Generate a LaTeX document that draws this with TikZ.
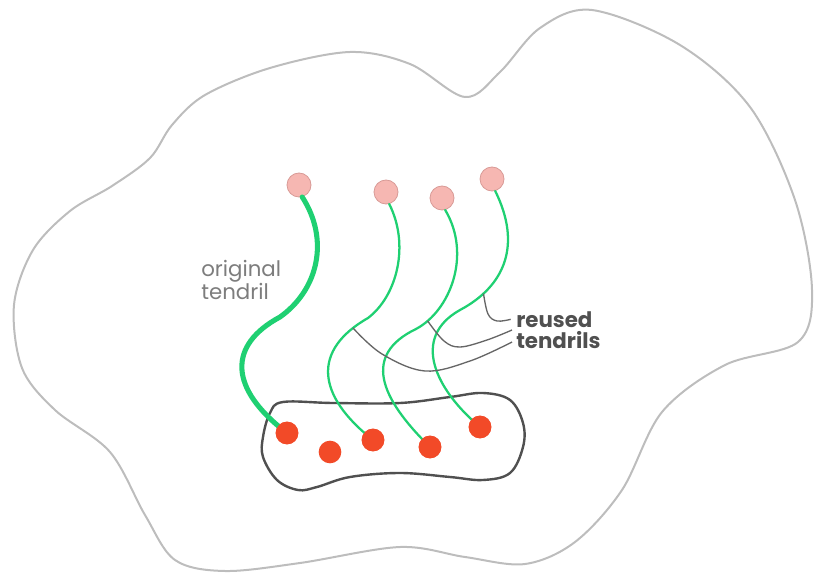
\documentclass[tikz,border=0pt]{standalone}
\usepackage{fontspec}
\setmainfont{Poppins}
\usepackage{xcolor}
\usepackage{tikz}
\usetikzlibrary{positioning}

\definecolor{blobgray}{HTML}{BDBDBD}
\definecolor{podgray}{HTML}{505050}
\definecolor{budpink}{HTML}{F6B7B2}
\definecolor{budline}{HTML}{D89A96}
\definecolor{seedred}{HTML}{F24A28}
\definecolor{tendrilgreen}{HTML}{1FD072}
\definecolor{pointergray}{HTML}{666666}

\begin{document}
\begin{tikzpicture}[
    x=0.75pt, y=-0.75pt,
    blob/.style={draw=blobgray, line width=1.5pt},
    pod/.style={draw=podgray, line width=1.8pt},
    bud/.style={circle, draw=budline, fill=budpink, line width=0.6pt, minimum size=18pt, inner sep=0pt},
    seed/.style={circle, fill=seedred, minimum size=17pt, inner sep=0pt},
    tendril/.style={draw=tendrilgreen, line width=1.7pt, line cap=round},
    pointer/.style={draw=pointergray, line width=1pt},
    caption/.style={font=\fontsize{16}{15.5}\selectfont, align=left, inner sep=0pt}
]
\useasboundingbox (0,0) rectangle (817,574);

% Outer region
\draw[blob] plot[smooth cycle, tension=0.55] coordinates {
    (14,305) (33,250) (70,211) (112,186) (150,158) (172,125)
    (205,95) (270,68) (350,52) (410,64) (465,97) (500,72)
    (540,28) (592,10) (680,45) (750,107) (795,200) (812,290)
    (798,342) (725,365) (662,412) (622,490) (575,542) (525,564)
    (465,557) (400,547) (300,563) (225,571) (175,560) (145,515)
    (110,452) (55,410) (22,368)};

% Pod holding the seeds
\draw[pod] plot[smooth cycle, tension=0.6] coordinates {
    (283,402) (333,403) (400,403) (450,397) (483,393) (510,400)
    (523,423) (523,447) (510,473) (483,480) (450,477) (400,473)
    (350,477) (317,487) (298,490) (277,480) (263,457) (263,437) (270,413)};

% Buds
\node[bud] (bud1) at (299,185) {};
\node[bud] (bud2) at (386,192) {};
\node[bud] (bud3) at (442,198) {};
\node[bud] (bud4) at (492,179) {};

% Seeds
\node[seed] (seed1) at (287,433) {};
\node[seed] (seed2) at (330,452) {};
\node[seed] (seed3) at (373,440) {};
\node[seed] (seed4) at (430,447) {};
\node[seed] (seed5) at (480,427) {};

% Tendrils
\draw[tendril, line width=3.8pt] (bud1.-75) .. controls (330,240) and (318,290) .. (280,317)
    .. controls (228,345) and (228,388) .. (seed1.center);
\draw[tendril] (bud2.-75) .. controls (410,245) and (397,296) .. (368,318)
    .. controls (312,350) and (316,395) .. coordinate[pos=0.1] (tipa) (seed3.center);
\draw[tendril] (bud3.-75) .. controls (472,255) and (450,311) .. coordinate[pos=0.88] (tipb) (416,329)
    .. controls (362,355) and (380,398) .. (seed4.center);
\draw[tendril] (bud4.-75) .. controls (522,245) and (505,286) .. coordinate[pos=0.8] (tipc) (460,310)
    .. controls (410,338) and (436,390) .. (seed5.center);
\node[seed] at (seed1) {};
\node[seed] at (seed3) {};
\node[seed] at (seed4) {};
\node[seed] at (seed5) {};

% Labels
\node[caption, text=pointergray!85, anchor=west] (original) at (201,280) {original\\tendril};
\node[caption, text=podgray, font=\fontsize{16}{15.5}\selectfont\bfseries, anchor=west] (reused) at (516,330) {reused\\tendrils};

% Pointers
\draw[pointer] plot[smooth, tension=0.6] coordinates {
    (tipa) (382,354) (425,371) (470,361) ([xshift=-3pt,yshift=-9pt]reused.west)};
\draw[pointer] plot[smooth, tension=0.6] coordinates {
    (tipb) (444,341) (460,347) (487,340) ([xshift=-3pt]reused.west)};
\draw[pointer] plot[smooth, tension=0.6] coordinates {
    (tipc) (488,314) (497,321) ([xshift=-4pt,yshift=8pt]reused.west)};

\end{tikzpicture}
\end{document}
